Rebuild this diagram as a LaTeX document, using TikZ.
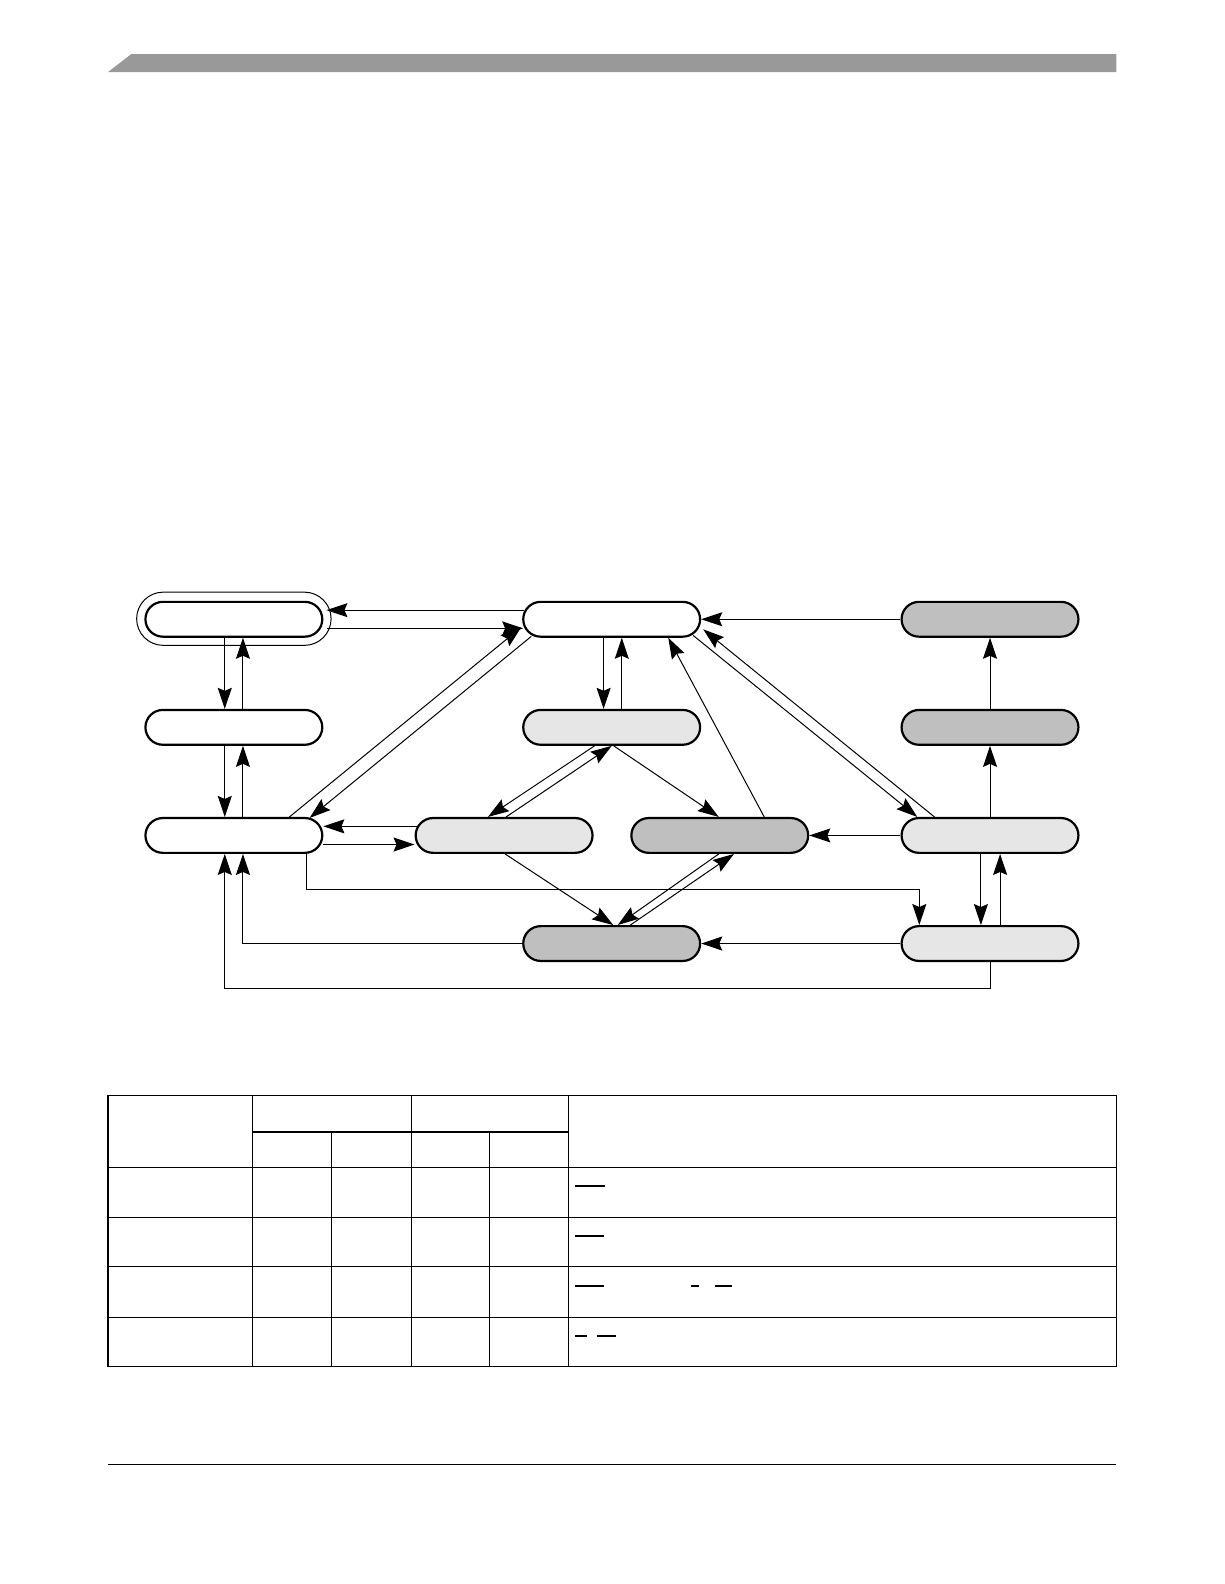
\documentclass[tikz,border=0pt]{standalone}
\usetikzlibrary{shapes.misc,arrows.meta,calc}
\definecolor{lightfill}{RGB}{230,230,230}
\definecolor{darkfill}{RGB}{191,191,191}
\definecolor{barfill}{RGB}{153,153,153}
\begin{document}
\begin{tikzpicture}[x=0.50495pt,y=-0.50495pt,
  pill/.style={rounded rectangle, draw, line width=1.1pt, minimum width=88.4pt, minimum height=17.4pt, inner sep=0pt},
  whitepill/.style={pill, fill=white},
  lightpill/.style={pill, fill=lightfill},
  darkpill/.style={pill, fill=darkfill},
  ring/.style={rounded rectangle, draw, line width=0.5pt, minimum width=97.2pt, minimum height=26.6pt, inner sep=0pt},
  arr/.style={line width=0.5pt, -{Stealth[length=10.5pt,width=7pt,inset=1.5pt]}},
  tbl/.style={line width=0.6pt},
  barline/.style={line width=0.6pt}]
\useasboundingbox (0,0) rectangle (1212,1568);

% header bar and footer line
\fill[barfill] (107,71.3) -- (130,53.5) -- (1105,53.5) -- (1105,71.3) -- cycle;
\draw[line width=0.6pt] (107,1449.3) -- (1105,1449.3);

% nodes
\node[ring] (A0) at (231.5,612.5) {};
\node[whitepill] (A) at (231.5,613) {};
\node[whitepill] (B) at (605.5,613) {};
\node[darkpill]  (C) at (980,613) {};
\node[whitepill] (D) at (231.5,720) {};
\node[lightpill] (E) at (605.5,720) {};
\node[darkpill]  (F) at (980,720) {};
\node[whitepill] (G) at (231.5,827) {};
\node[lightpill] (H) at (499,827) {};
\node[darkpill]  (I) at (712.5,827) {};
\node[lightpill] (J) at (980,827) {};
\node[darkpill]  (K) at (605.5,934) {};
\node[lightpill] (L) at (980,934) {};

% connectors
\draw[arr] ($(B.west)+(2,-9)$) -- ($(A.east)+(3,-9)$);
\draw[arr] ($(A.east)+(4,9)$) -- ($(B.west)+(1,9)$);
\draw[arr] ($(A.south)+(-9,0)$) -- ($(D.north)+(-9,0)$);
\draw[arr] ($(D.north)+(9,0)$) -- ($(A.south)+(9,0)$);
\draw[arr] ($(D.south)+(-9,0)$) -- ($(G.north)+(-9,0)$);
\draw[arr] ($(G.north)+(9,0)$) -- ($(D.south)+(9,0)$);
\draw[arr] ($(G.north)+(55,0)$) -- ($(B.west)+(-1,8)$);
\draw[arr] ($(B.west)+(9,17)$) -- ($(G.north)+(75,1)$);
\draw[arr] ($(H.west)+(2,-9)$) -- ($(G.east)+(0,-9)$);
\draw[arr] ($(G.east)+(0,9)$) -- ($(H.west)+(0,9)$);
\draw[arr] ($(B.south)+(-8,0)$) -- ($(E.north)+(-8,0)$);
\draw[arr] ($(E.north)+(10,0)$) -- ($(B.south)+(10,0)$);
\draw[arr] ($(E.south)+(-17,0)$) -- ($(H.north)+(-16,0)$);
\draw[arr] ($(H.north)+(2,0)$) -- (E.south);
\draw[arr] ($(E.south)+(2,0)$) -- ($(I.north)+(-1,0)$);
\draw[arr] ($(I.north)+(44,0)$) -- ($(B.south)+(56,0)$);
\draw[arr] (C.west) -- (B.east);
\draw[arr] ($(B.east)+(-8,16)$) -- ($(J.north)+(-72,0)$);
\draw[arr] ($(J.north)+(-55,0)$) -- ($(B.east)+(2,10)$);
\draw[arr] (F.north) -- (C.south);
\draw[arr] (J.north) -- (F.south);
\draw[arr] (J.west) -- (I.east);
\draw[arr] ($(J.south)+(-9,0)$) -- ($(L.north)+(-9,0)$);
\draw[arr] ($(L.north)+(10,0)$) -- ($(J.south)+(10,0)$);
\draw[arr] (L.west) -- (K.east);
\draw[arr] ($(H.south)+(1,0)$) -- ($(K.north)+(1.5,0)$);
\draw[arr] ($(I.south)+(-1,0)$) -- ($(K.north)+(6,0)$);
\draw[arr] ($(K.north)+(18.5,0)$) -- ($(I.south)+(14,0)$);
\draw[arr] ($(G.south)+(72,0)$) -- ++(0,35.5) -| ($(L.north)+(-70,0)$);
\draw[arr] (K.west) -| ($(G.south)+(9,0)$);
\draw[arr] (L.south) -- ++(0,26.5) -| ($(G.south)+(-9,0)$);

% table
\draw[tbl] (107,1084.6) rectangle (1105,1353);
\foreach \yy in {1155.9,1205,1253.9,1304.4} \draw[tbl] (107,\yy) -- (1105,\yy);
\draw[tbl] (249.7,1120.6) -- (562.9,1120.6);
\foreach \xx in {249.7,407,562.9} \draw[tbl] (\xx,1084.6) -- (\xx,1353);
\foreach \xx in {328.4,484.9} \draw[tbl] (\xx,1120.6) -- (\xx,1353);

% overline marks
\draw[barline] (569,1174) -- (599,1174);
\draw[barline] (569,1223.5) -- (598,1223.5);
\draw[barline] (569,1273) -- (598,1273);
\draw[barline] (684.5,1273) -- (692,1273);
\draw[barline] (708,1273) -- (725,1273);
\draw[barline] (569.5,1322.5) -- (581,1322.5);
\draw[barline] (590.5,1322.5) -- (610,1322.5);
\end{tikzpicture}
\end{document}
